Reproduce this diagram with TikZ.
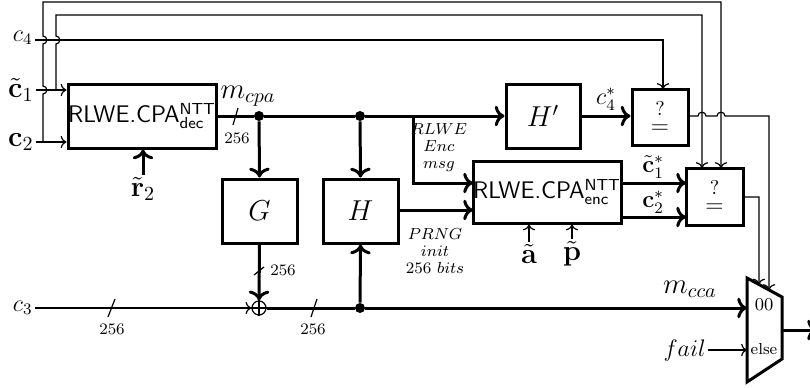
\documentclass[tikz,border=0pt]{standalone}
\usepackage{amsmath,amssymb}
\usetikzlibrary{calc,arrows.meta}
\begin{document}
\begin{tikzpicture}[x=0.5pt,y=-0.5pt,
  thk/.style={line width=1.5pt},
  thn/.style={line width=0.6pt},
  blk/.style={draw,line width=1.5pt,inner sep=0pt},
  qbox/.style={blk,align=center},
  lbl/.style={inner sep=1pt},
  sml/.style={inner sep=1pt,font=\footnotesize},
  dotj/.style={circle,fill,inner sep=0pt,minimum size=5pt},
  xorc/.style={circle,draw,line width=0.6pt,inner sep=0pt,minimum size=7pt}
]
\useasboundingbox (0,0) rectangle (810,387);
\newcommand{\rlwe}[1]{\sffamily RLWE.CPA$^{\textsf{NTT}}_{\textsf{#1}}$}
\newcommand{\qeq}{{\fontsize{10}{10}\selectfont ?}\\[-3pt]{\fontsize{12.5}{12.5}\selectfont$=$}}
% boxes
\node[blk,minimum width=74pt,minimum height=32pt,font=\large] (dec) at (142,116) {\rlwe{dec}};
\node[blk,minimum width=74pt,minimum height=31pt,font=\large] (enc) at (547,192) {\rlwe{enc}};
\node[blk,minimum width=37pt,minimum height=32pt,font=\Large] (Hp) at (543,116) {$H'$};
\node[blk,minimum width=37.5pt,minimum height=32pt,font=\Large] (G) at (259.5,211) {$G$};
\node[blk,minimum width=37.5pt,minimum height=32pt,font=\Large] (H) at (360.5,211) {$H$};
\node[qbox,minimum width=28pt,minimum height=28pt] (q1) at (660,117) {\qeq};
\node[qbox,minimum width=28.5pt,minimum height=28.5pt] (q2) at (714.5,196.5) {\qeq};
\node[xorc] (xor) at (259,308) {};
\draw[thn] (xor.north) -- (xor.south) (xor.west) -- (xor.east);
% mux
\coordinate (mtl) at (747,278);
\coordinate (mtr) at (782,297);
\coordinate (mbr) at (782,359);
\coordinate (mbl) at (747,382);
\draw[thk] (mtl) -- (mtr) -- (mbr) -- (mbl) -- cycle;
\node[font=\small,inner sep=0pt] (m00) at (764,305) {00};
\node[font=\footnotesize,inner sep=0pt] (melse) at (764,349) {else};
% input labels
\node[lbl,font=\large,anchor=east] (lc4) at (35,38) {$c_4$};
\node[lbl,font=\Large,anchor=east] (lc1) at (36,90) {$\tilde{\mathbf{c}}_1$};
\node[lbl,font=\Large,anchor=east] (lc2) at (36,142) {$\mathbf{c}_2$};
\node[lbl,font=\large,anchor=east] (lc3) at (35,308) {$c_3$};
\node[lbl,font=\fontsize{13}{15}\selectfont,anchor=east] (lfail) at (708,350) {$fail$};
\node[lbl,font=\Large] (lr2) at (143,189) {$\tilde{\mathbf{r}}_2$};
\node[lbl,font=\Large] (la) at (529,254) {$\tilde{\mathbf{a}}$};
\node[lbl,font=\Large] (lp) at (572,254) {$\tilde{\mathbf{p}}$};
% junctions
\coordinate (j1) at (56,90);
\coordinate (j2) at (43,142);
\node[dotj] (d1) at (259,116) {};
\node[dotj] (d2) at (360,116) {};
\coordinate (b1) at (413,116);
\node[dotj] (d3) at (360,308) {};
% thin inputs into dec
\draw[thn,->] (lc1.east |- 0,90) -- (lc1.east -| dec.west);
\draw[thn,->] (lc2.east |- 0,142) -- (lc2.east -| dec.west);
% c4 to q1
\draw[thn,->] (lc4.east |- 0,40) -- (663,40) -- (663,89);
% outer loop from c2 (jumps over c1 and c4)
\draw[thn,->] (j2) -- (43,94) .. controls (48,94) and (48,86) .. (43,86)
  -- (43,44) .. controls (48,44) and (48,36) .. (43,36) -- (43,2) -- (721,2) -- (721,168);
% inner loop from c1
\draw[thn,->] (j1) -- (56,44) .. controls (61,44) and (61,36) .. (56,36) -- (56,15) -- (702,15) -- (702,168);
% r2
\draw[thk,->] (lr2.north) -- (lr2.north |- dec.south);
% m_cpa bus
\draw[thk] (dec.east |- 0,116) -- (d1) -- (d2) -- (b1);
\draw[thk,->] (b1) -- (Hp.west);
\draw[thk,->] (b1) -- (413,183) -- (473,183);
\draw[thk,->] (d1) -- (G.north);
\draw[thk,->] (d2) -- (H.north);
\node[lbl,font=\Large] (lmcpa) at (248,96) {$m_{cpa}$};
\draw[thn] (233,125) -- (238,108);
\node[sml] (s1) at (237,138) {256};
\node[sml,align=center] (lmsg) at (439,148) {$RLWE$\\[-1pt]$Enc$\\[-1pt]$msg$};
% H to enc
\draw[thk,->] (H.east |- 0,210) -- (473,210);
\node[sml,align=center] (lprng) at (435,251) {$PRNG$\\[-1pt]$init$\\[-1pt]$256\ bits$};
% a, p
\draw[thn,->] (la.north) -- (la.north |- enc.south);
\draw[thn,->] (lp.north) -- (lp.north |- enc.south);
% Hp -> q1
\draw[thk,->] (Hp.east) -- (Hp.east -| q1.west);
\node[lbl,font=\large] (lc4s) at (606,99) {$c_4^*$};
% enc -> q2
\draw[thk,->] (621,183) -- (686,183);
\draw[thk,->] (621,217) -- (686,217);
\node[lbl,font=\large] (lc1s) at (653,167) {$\tilde{\mathbf{c}}_1^*$};
\node[lbl,font=\large] (lc2s) at (653,202) {$\mathbf{c}_2^*$};
% G -> xor
\draw[thk,->] (G.south) -- (xor.north);
\draw[thn] (254,275) -- (264,267);
\node[sml] (s2) at (283,270) {256};
% c3 -> xor
\draw[thn,->] (lc3.east) -- (xor.west);
\draw[thn] (108,317) -- (115,299);
\node[sml] (s3) at (112,329) {256};
% xor -> mux
\draw[thk] (xor.east) -- (d3);
\draw[thk,->] (d3) -- (747,308);
\draw[thn] (311,317) -- (317,299);
\node[sml] (s4) at (313,329) {256};
\draw[thk,->] (d3) -- (H.south);
\node[lbl,font=\Large] (lmcca) at (690,289) {$m_{cca}$};
% fail
\draw[thn,->] (lfail.east) -- (747,350);
% q1 -> mux (jumps)
\draw[thn,->] (q1.east |- 0,116) -- (698,116) .. controls (698,111) and (706,111) .. (706,116)
  -- (717,116) .. controls (717,111) and (725,111) .. (725,116) -- (769,116) -- ($(mtl)!0.63!(mtr)$);
% q2 -> mux
\draw[thn,->] (q2.east |- 0,197) -- (759,197) -- ($(mtl)!0.34!(mtr)$);
% mux out
\coordinate (mo) at (817,330);
\draw[thk,->] (782,330) -- (mo);
\end{tikzpicture}
\end{document}
